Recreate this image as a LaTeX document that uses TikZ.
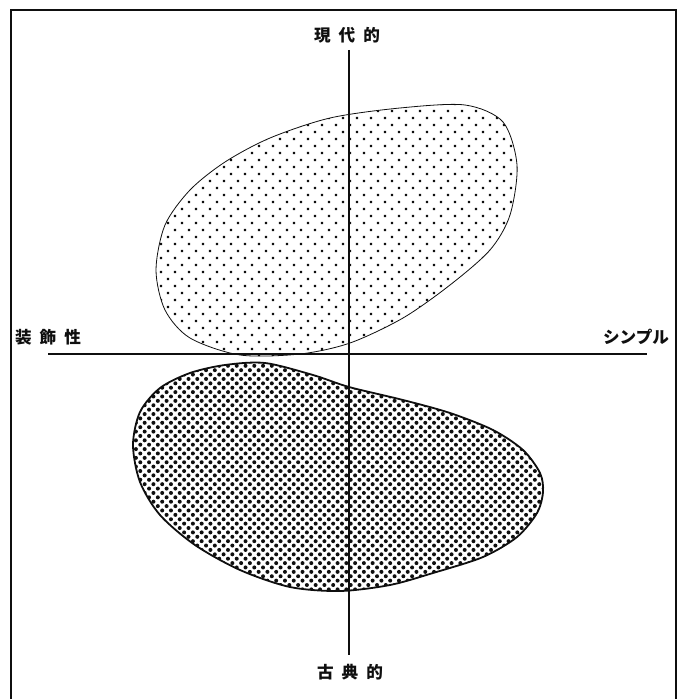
\documentclass[tikz,border=0pt]{standalone}
\usepackage{fontspec}
\newfontfamily\jpfont{Noto Sans CJK JP}
\definecolor{InkBlack}{RGB}{15,15,15}
\usetikzlibrary{patterns.meta}

\begin{document}
\begin{tikzpicture}[x=0.5pt, y=-0.5pt,
    axisline/.style={line width=1pt, InkBlack},
    axislabel/.style={font=\jpfont\bfseries\fontsize{8.3}{8.3}\selectfont, inner sep=0pt, text=InkBlack},
    lightzone/.style={pattern={Dots[distance=4.95pt, angle=45, radius=0.75pt]}, pattern color=InkBlack, draw=InkBlack, line width=0.4pt},
    darkzone/.style={pattern={Dots[distance=3.1pt, angle=45, radius=1pt]}, pattern color=InkBlack, draw=InkBlack, line width=0.9pt}]
  \useasboundingbox (0,0) rectangle (681,699);
  % frame
  \draw[line width=1.4pt, InkBlack] (11,699) -- (11,10) -- (676,10) -- (676,699);

  % modern zone
  \draw[lightzone] plot[smooth cycle] coordinates {
      (156,270) (165,225) (190,190) (225,162) (270,138) (330,118) (400,108)
      (465,105) (503,122) (517,165) (510,215) (490,250) (450,285) (403,318)
      (350,343) (300,354) (240,355) (190,338) (165,310)};
  % classic zone
  \draw[darkzone] plot[smooth cycle] coordinates {
      (133,445) (140,412) (160,388) (190,373) (225,365) (265,363) (313,375)
      (349,387) (403,400) (450,413) (493,430) (523,450) (540,473) (543,492)
      (537,513) (517,537) (483,557) (433,573) (390,585) (340,591) (290,587)
      (240,570) (195,545) (160,515) (140,482)};

  % axes
  \coordinate (axtop) at (349,50);
  \coordinate (axbot) at (349,655);
  \coordinate (axleft) at (48,354);
  \coordinate (axright) at (647,354);
  \draw[axisline] (axtop) -- (axbot);
  \draw[axisline] (axleft) -- (axright);

  % labels
  \node[axislabel] (modern) at (347,35) {現\hspace{4pt}代\hspace{4pt}的};
  \node[axislabel] (classic) at (350,672) {古\hspace{4pt}典\hspace{4pt}的};
  \node[axislabel] (ornate) at (48,337) {装\hspace{4pt}飾\hspace{4pt}性};
  \node[axislabel] (simple) at (636,337) {シンプル};
\end{tikzpicture}
\end{document}
